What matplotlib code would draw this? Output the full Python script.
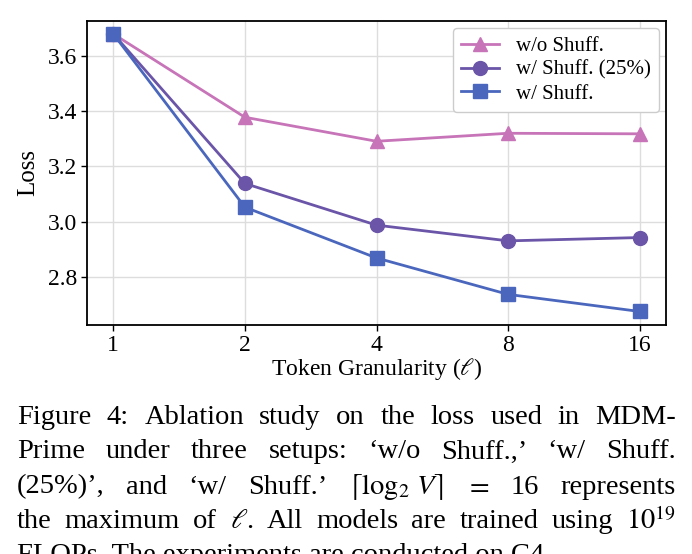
import matplotlib
matplotlib.use("Agg")
import matplotlib.pyplot as plt
import numpy as np

# === Data ===
granularity = [1, 2, 4, 8, 16]
loss_no_shuff = [3.68, 3.378, 3.291, 3.320, 3.318]
loss_shuff_25 = [3.68, 3.138, 2.987, 2.930, 2.942]
loss_shuff = [3.68, 3.052, 2.868, 2.736, 2.674]
series_labels = ["w/o Shuff.", "w/ Shuff. (25%)", "w/ Shuff."]

caption_lines = [
    "Figure 4:  Ablation study on the loss used in MDM-",
    "Prime under three setups: \u2018w/o Shuff.,\u2019 \u2018w/ Shuff.",
    "(25%)\u2019, and \u2018w/ Shuff.\u2019 $\\lceil\\log_2\\,V\\rceil$ $=$ 16 represents",
    "the maximum of $\\ell$. All models are trained using $10^{19}$",
    "FLOPs. The experiments are conducted on C4.",
]

plt.rcParams["font.family"] = ["Liberation Serif", "DejaVu Serif"]
plt.rcParams["mathtext.fontset"] = "stix"

fig = plt.figure(figsize=(6.92, 5.54), dpi=100)
ax = fig.add_axes([87 / 692, 1 - 325 / 554, (666 - 87) / 692, (325 - 21) / 554])

x = np.log2(granularity)
ax.plot(x, loss_no_shuff, marker="^", markersize=10, linewidth=2, color="#c774b8", label=series_labels[0])
ax.plot(x, loss_shuff_25, marker="o", markersize=10, linewidth=2, color="#6a55a8", label=series_labels[1])
ax.plot(x, loss_shuff, marker="s", markersize=10, linewidth=2, color="#4a67bd", label=series_labels[2])

ax.set_xticks(x)
ax.set_xticklabels([str(g) for g in granularity])
ax.set_xlim(-0.2, 4.2)
ax.set_ylim(2.625, 3.727)
ax.set_yticks([2.8, 3.0, 3.2, 3.4, 3.6])
ax.tick_params(labelsize=17, direction="out", length=4, width=1, pad=3)
ax.grid(True, color="#dddddd", linewidth=1)
ax.set_axisbelow(True)
for s in ax.spines.values():
    s.set_linewidth(1.3)
    s.set_color("black")

ax.set_xlabel("Token Granularity ($\\ell$)", fontsize=17, labelpad=0)
ax.set_ylabel("Loss", fontsize=18, labelpad=6)
ax.legend(loc="upper right", fontsize=15, framealpha=1, edgecolor="#cccccc",
          handlelength=1.8, borderpad=0.4, labelspacing=0.2, borderaxespad=0.35)

# === Caption (justified lines) ===
fig.canvas.draw()
renderer = fig.canvas.get_renderer()
left_px, right_px = 17, 676
cap_size = 20.5
line_y = [418, 452, 487, 521, 555]
for i, line in enumerate(caption_lines):
    y = 1 - line_y[i] / 554
    if i == len(caption_lines) - 1:
        fig.text(left_px / 692, y, line, fontsize=cap_size, va="center", ha="left")
        continue
    words = [w for w in line.split(" ") if w != ""]
    texts = [fig.text(0, y, w, fontsize=cap_size, va="center", ha="left") for w in words]
    widths = [t.get_window_extent(renderer).width for t in texts]
    gap = (right_px - left_px - sum(widths)) / (len(words) - 1)
    pos = left_px
    for t, w in zip(texts, widths):
        t.set_x(pos / 692)
        pos += w + gap

fig.savefig("out.png", dpi=100)
